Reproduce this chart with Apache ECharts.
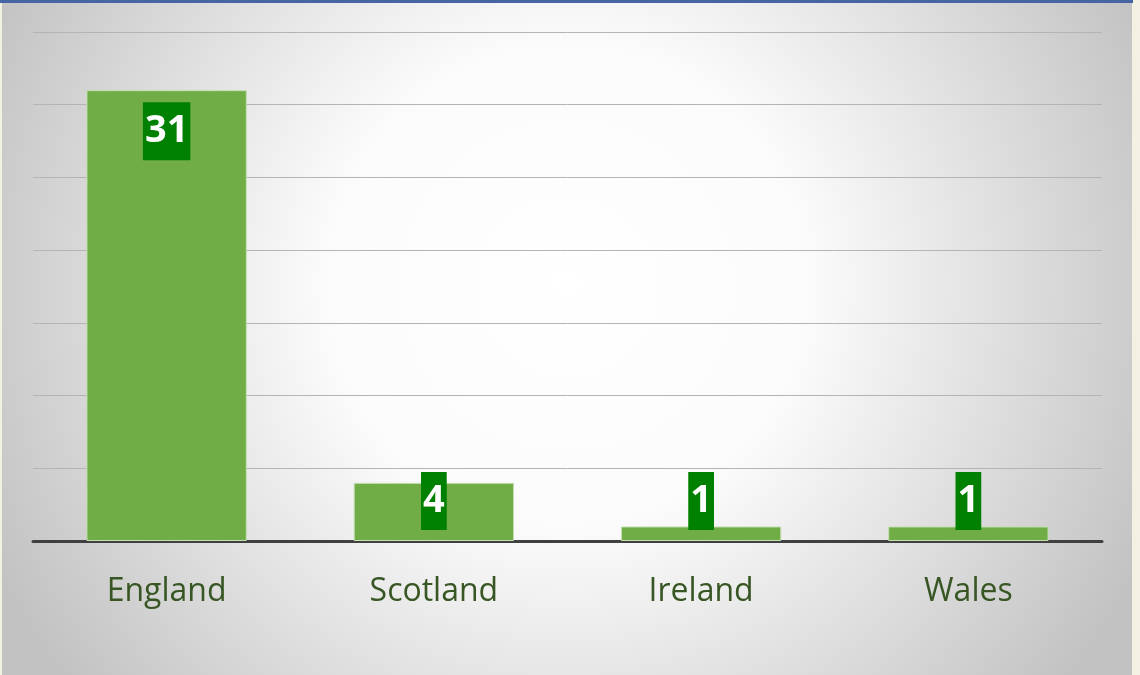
<!DOCTYPE html>
<html>
<head>
<meta charset="utf-8">
<script src="https://cdn.jsdelivr.net/npm/echarts@6/dist/echarts.min.js"></script>
<style>
  html, body { margin: 0; padding: 0; background: #f3f1e2; width: 1140px; height: 675px; overflow: hidden; }
  #topbar { position: absolute; left: 0; top: 0; width: 1133px; height: 3px; background: #4565a5; }
  #chart { position: absolute; left: 2px; top: 3px; width: 1130px; height: 672px; }
</style>
</head>
<body>
<div id="topbar"></div>
<div id="chart"></div>
<script>
// Countries and their counts
const categories = ['England', 'Scotland', 'Ireland', 'Wales'];
const counts = [31, 4, 1, 1];

// Value axis range
const axisMin = 0;
const axisMax = 35;
const axisStep = 5;

const chart = echarts.init(document.getElementById('chart'), null, { renderer: 'canvas' });

// Tall bars carry their label inside the top; short bars get it lifted off the baseline
const barData = counts.map(v => ({
  value: v,
  label: v >= 10
    ? { position: 'insideTop', distance: 12 }
    : { position: 'insideBottom', distance: 11 }
}));

chart.setOption({
  backgroundColor: {
    type: 'radial', x: 0.5, y: 0.42, r: 0.95,
    colorStops: [
      { offset: 0, color: '#ffffff' },
      { offset: 0.38, color: '#fbfbfb' },
      { offset: 1, color: '#c2c2c2' }
    ]
  },
  animation: false,
  grid: { left: 31, right: 30, top: 29, bottom: 134, containLabel: false },
  xAxis: {
    type: 'category',
    data: categories,
    axisLine: { lineStyle: { color: '#404040', width: 3 } },
    axisTick: { show: false },
    axisLabel: {
      color: '#375623',
      fontFamily: 'Open Sans',
      fontSize: 32,
      margin: 35
    }
  },
  yAxis: {
    type: 'value',
    min: axisMin, max: axisMax, interval: axisStep,
    axisLabel: { show: false },
    axisLine: { show: false },
    axisTick: { show: false },
    splitLine: { lineStyle: { color: '#b4b4b4', width: 1 } }
  },
  series: [{
    type: 'bar',
    data: barData,
    barWidth: '60%',
    itemStyle: { color: '#70ad47', borderColor: '#c6dfb5', borderWidth: 1 },
    label: {
      show: true,
      color: '#ffffff',
      fontFamily: 'Open Sans',
      fontWeight: 'bold',
      fontSize: 38,
      lineHeight: 52,
      backgroundColor: '#008000',
      padding: [3, 2, 3, 2]
    }
  }]
});
</script>
</body>
</html>
